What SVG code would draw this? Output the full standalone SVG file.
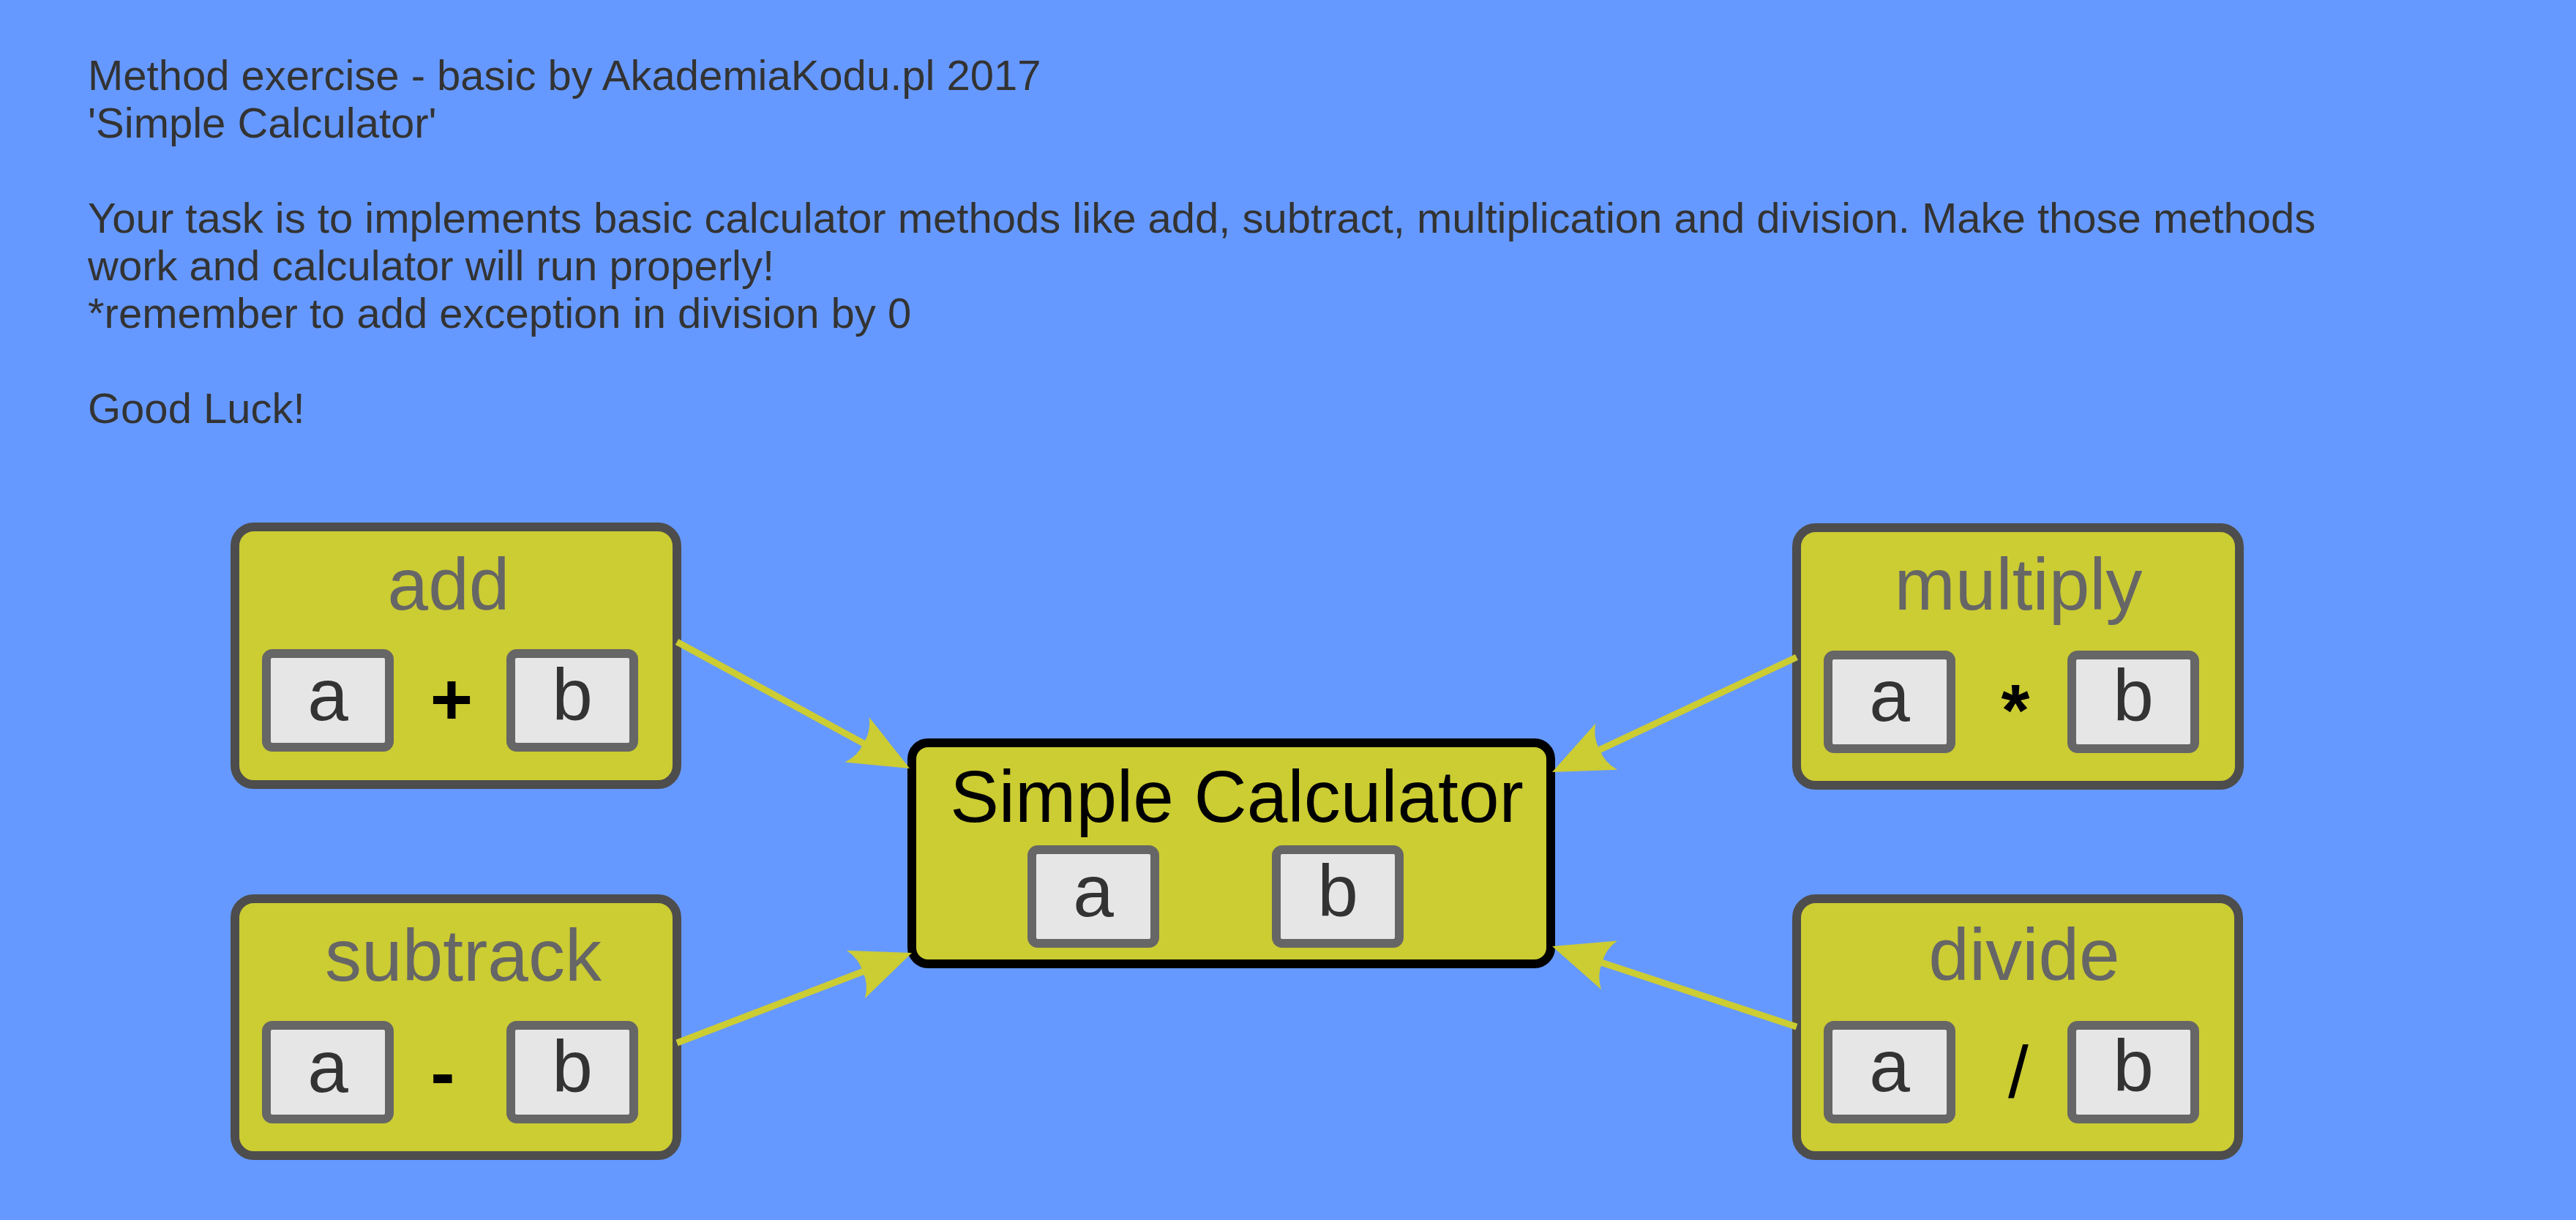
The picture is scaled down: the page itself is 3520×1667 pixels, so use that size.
<svg xmlns="http://www.w3.org/2000/svg" width="3520" height="1667" viewBox="0 0 3520 1667">
<style>
text{font-family:"Liberation Sans",Arial,sans-serif}
.desc{font-size:58px;fill:#333333}
.method{fill:#cccc33;stroke:#4d4d4d;stroke-width:12}
.main{fill:#cccc33;stroke:#000000;stroke-width:12}
.param{fill:#e6e6e6;stroke:#666666;stroke-width:12}
.title{font-size:100px;fill:#666666;text-anchor:middle}
.maintitle{font-size:100px;fill:#000000;text-anchor:middle}
.pt{font-size:100px;fill:#333333;text-anchor:middle}
.op{font-size:100px;fill:#000000;text-anchor:middle}
.opb{font-size:100px;fill:#000000;text-anchor:middle;font-weight:bold}
.conn{fill:none;stroke:#cccc33;stroke-width:9;marker-end:url(#arr)}
</style>
<defs>
<marker id="arr" markerUnits="userSpaceOnUse" viewBox="-50 -40 100 80" markerWidth="100" markerHeight="80" refX="0" refY="0" orient="auto" overflow="visible">
<path d="M40,0 L-42,-35 Q-30,-18 -32,0 Q-30,18 -42,35 Z" fill="#cccc33"/>
</marker>
</defs>
<rect x="0" y="0" width="3520" height="1667" fill="#6699ff"/>
<g id="description">
<text class="desc" x="120" y="123">Method exercise - basic by AkademiaKodu.pl 2017</text>
<text class="desc" x="120" y="188">'Simple Calculator'</text>
<text class="desc" x="120" y="318">Your task is to implements basic calculator methods like add, subtract, multiplication and division. Make those methods</text>
<text class="desc" x="120" y="383">work and calculator will run properly!</text>
<text class="desc" x="120" y="448">*remember to add exception in division by 0</text>
<text class="desc" x="120" y="578">Good Luck!</text>
</g>
<g id="add">
<rect class="method" x="321" y="720" width="604" height="352" rx="26"/>
<text class="title" x="613" y="833">add</text>
<rect class="param" x="364" y="893" width="168" height="128" rx="8"/>
<text class="pt" x="448" y="984">a</text>
<text class="opb" x="617" y="990">+</text>
<rect class="param" x="698" y="893" width="168" height="128" rx="8"/>
<text class="pt" x="782" y="984">b</text>
</g>
<g id="subtrack">
<rect class="method" x="321" y="1228" width="604" height="351" rx="26"/>
<text class="title" x="633" y="1340">subtrack</text>
<rect class="param" x="364" y="1401" width="168" height="128" rx="8"/>
<text class="pt" x="448" y="1492">a</text>
<text class="opb" x="605" y="1500" font-size="110">-</text>
<rect class="param" x="698" y="1401" width="168" height="128" rx="8"/>
<text class="pt" x="782" y="1492">b</text>
</g>
<g id="multiply">
<rect class="method" x="2455" y="721" width="605" height="352" rx="26"/>
<text class="title" x="2758" y="833">multiply</text>
<rect class="param" x="2498" y="895" width="168" height="128" rx="8"/>
<text class="pt" x="2582" y="985">a</text>
<text class="opb" x="2754" y="1005">*</text>
<rect class="param" x="2831" y="895" width="168" height="128" rx="8"/>
<text class="pt" x="2915" y="985">b</text>
</g>
<g id="divide">
<rect class="method" x="2455" y="1228" width="604" height="351" rx="26"/>
<text class="title" x="2766" y="1339">divide</text>
<rect class="param" x="2498" y="1401" width="168" height="128" rx="8"/>
<text class="pt" x="2582" y="1491">a</text>
<text class="op" x="2758" y="1500">/</text>
<rect class="param" x="2831" y="1401" width="168" height="128" rx="8"/>
<text class="pt" x="2915" y="1491">b</text>
</g>
<g id="calculator">
<rect class="main" x="1246" y="1015" width="873" height="302" rx="22"/>
<text class="maintitle" x="1690" y="1123">Simple Calculator</text>
<rect class="param" x="1410" y="1161" width="168" height="128" rx="8"/>
<text class="pt" x="1494" y="1252">a</text>
<rect class="param" x="1744" y="1161" width="168" height="128" rx="8"/>
<text class="pt" x="1828" y="1252">b</text>
</g>
<g id="connectors">
<path class="conn" d="M925,877 L1207.9,1030.9"/>
<path class="conn" d="M925,1425 L1208.7,1316.3"/>
<path class="conn" d="M2455,898 L2157.2,1038"/>
<path class="conn" d="M2455,1403 L2159,1305.5"/>
</g>
</svg>
